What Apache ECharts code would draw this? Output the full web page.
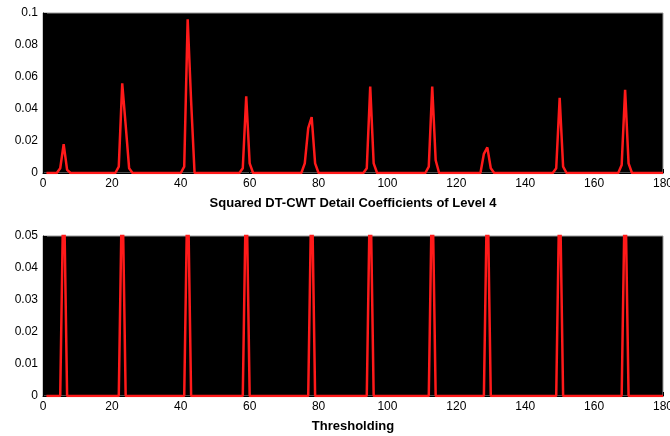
<!DOCTYPE html>
<html><head><meta charset="utf-8">
<script src="https://cdn.jsdelivr.net/npm/echarts@6/dist/echarts.min.js"></script>
<style>html,body{margin:0;padding:0;background:#fff;overflow:hidden}#c{width:670px;height:436px}</style>
</head><body><div id="c"></div>
<script>
// Top panel: squared coefficients (x, y)
const topX = [1, 4, 5, 6, 7, 8,
  21, 22, 23, 24, 25, 26,
  40, 41, 42, 43, 44,
  57, 58, 59, 60, 61,
  75, 76, 77, 78, 79, 80,
  93, 94, 95, 96, 97,
  111, 112, 113, 114, 115,
  127, 128, 129, 130, 131,
  148, 149, 150, 151, 152,
  167, 168, 169, 170, 171, 180];
const topY = [0, 0, 0.003, 0.018, 0.002, 0,
  0, 0.004, 0.056, 0.03, 0.003, 0,
  0, 0.004, 0.096, 0.045, 0,
  0, 0.003, 0.048, 0.006, 0,
  0, 0.006, 0.028, 0.035, 0.006, 0,
  0, 0.003, 0.054, 0.006, 0,
  0, 0.004, 0.054, 0.008, 0,
  0, 0.012, 0.016, 0.003, 0,
  0, 0.003, 0.047, 0.004, 0,
  0, 0.005, 0.052, 0.006, 0, 0];
// Bottom panel: thresholded values (clipped at 0.05)
const botX = [1, 5, 6, 7, 22, 23, 24, 41, 42, 43, 58, 59, 60, 77, 78, 79,
  94, 95, 96, 112, 113, 114, 128, 129, 130, 149, 150, 151, 168, 169, 170, 180];
const botY = [0, 0, 0.07, 0, 0, 0.07, 0, 0, 0.07, 0, 0, 0.07, 0, 0, 0.07, 0,
  0, 0.07, 0, 0, 0.07, 0, 0, 0.07, 0, 0, 0.07, 0, 0, 0.07, 0, 0];
const xTicks = [0, 20, 40, 60, 80, 100, 120, 140, 160, 180];
const topTicks = [0, 0.02, 0.04, 0.06, 0.08, 0.1];
const botTicks = [0, 0.01, 0.02, 0.03, 0.04, 0.05];
const topTitle = 'Squared DT-CWT Detail Coefficients of Level 4';
const botTitle = 'Thresholding';

const pairs = (xs, ys) => xs.map((x, i) => [x, ys[i]]);
const font = 'Liberation Sans, Arial, sans-serif';
const axLabel = {color: '#000', fontSize: 12, fontFamily: font};
function xAx(idx, name) {
  return {gridIndex: idx, type: 'value', min: xTicks[0], max: xTicks[xTicks.length-1],
    interval: xTicks[1]-xTicks[0],
    axisLine: {show: true, lineStyle: {color: '#000'}},
    axisTick: {show: true, inside: true, length: 4, lineStyle: {color: '#000'}},
    axisLabel: Object.assign({margin: 5}, axLabel), splitLine: {show: false},
    name: name, nameLocation: 'middle', nameGap: 24,
    nameTextStyle: {color: '#000', fontWeight: 'bold', fontSize: 13, fontFamily: font}};
}
function yAx(idx, ticks) {
  return {gridIndex: idx, type: 'value', min: ticks[0], max: ticks[ticks.length-1],
    interval: ticks[1]-ticks[0],
    axisLine: {show: true, lineStyle: {color: '#000'}},
    axisTick: {show: true, inside: true, length: 4, lineStyle: {color: '#000'}},
    axisLabel: Object.assign({margin: 5, formatter: v => String(+v.toFixed(3))}, axLabel),
    splitLine: {show: false}};
}
const chart = echarts.init(document.getElementById('c'), null, {renderer: 'canvas', width: 670, height: 436});
chart.setOption({
  animation: false,
  backgroundColor: '#fff',
  grid: [
    {left: 43, width: 620, top: 13, height: 160, show: true, backgroundColor: '#000', borderColor: '#999', borderWidth: 1, outerBoundsMode: 'none', containLabel: false},
    {left: 43, width: 620, top: 236, height: 160, show: true, backgroundColor: '#000', borderColor: '#999', borderWidth: 1, outerBoundsMode: 'none', containLabel: false}
  ],
  xAxis: [xAx(0, topTitle), xAx(1, botTitle)],
  yAxis: [yAx(0, topTicks), yAx(1, botTicks)],
  series: [
    {type: 'line', xAxisIndex: 0, yAxisIndex: 0, data: pairs(topX, topY), showSymbol: false,
      clip: true, lineStyle: {color: '#ff1a1a', width: 2.5}},
    {type: 'line', xAxisIndex: 1, yAxisIndex: 1, data: pairs(botX, botY), showSymbol: false,
      clip: true, lineStyle: {color: '#ff1a1a', width: 2.5}}
  ]
});
</script></body></html>
